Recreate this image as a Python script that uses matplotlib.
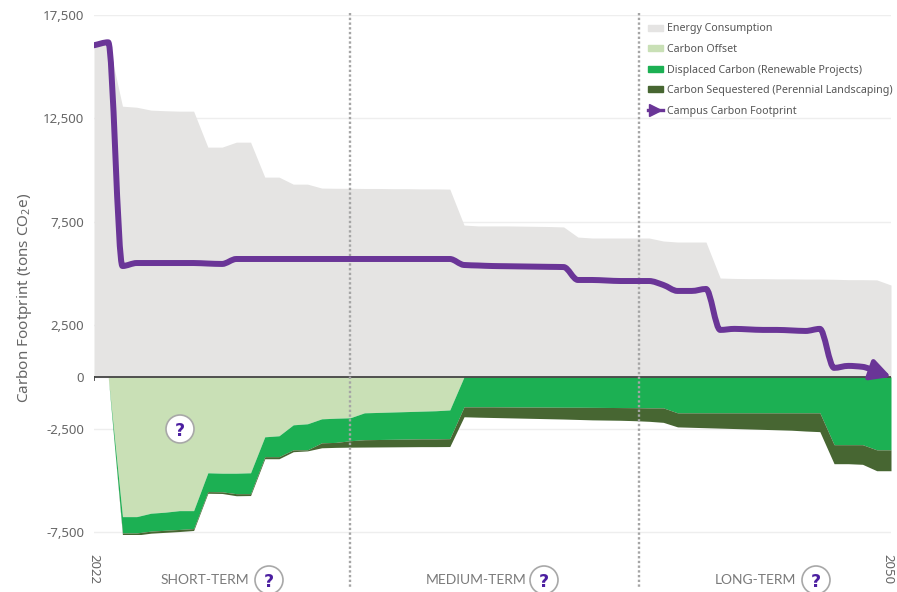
import numpy as np
import matplotlib
matplotlib.use('Agg')
import matplotlib.pyplot as plt
from matplotlib.patches import Patch, PathPatch, Circle
from matplotlib.path import Path
from matplotlib.lines import Line2D

years = np.arange(2022, 2050.5, 0.5)

energy = [16040, 16230, 13090, 13040, 12900, 12870, 12850, 12850, 11110, 11110, 11350, 11350,
          9660, 9660, 9320, 9320, 9130, 9120, 9120, 9110, 9110, 9100, 9100, 9090, 9090, 9080,
          7340, 7300, 7300, 7300, 7290, 7280, 7270, 7250, 6760, 6715, 6715, 6715, 6715, 6715,
          6570, 6520, 6520, 6520, 4780, 4760, 4750, 4750, 4740, 4740, 4730, 4730, 4720, 4700,
          4700, 4690, 4440]
footprint = [16036, 16180, 5360, 5505, 5505, 5505, 5505, 5505, 5480, 5460, 5700, 5700,
             5700, 5700, 5700, 5700, 5700, 5700, 5700, 5700, 5700, 5700, 5700, 5700, 5700, 5700,
             5410, 5385, 5360, 5350, 5340, 5330, 5320, 5310, 4685, 4685, 4660, 4635, 4635, 4635,
             4445, 4155, 4155, 4250, 2270, 2320, 2295, 2270, 2270, 2245, 2220, 2320, 435, 530,
             485, 240, 0]
offset_edge = [0, 0, -6760, -6760, -6595, -6545, -6470, -6470, -4640, -4660, -4660, -4640,
               -2900, -2850, -2320, -2270, -2030, -2000, -1980, -1740, -1720, -1700, -1680,
               -1660, -1640, -1600] + [0] * 31
displaced_edge = [0, 0, -7550, -7550, -7460, -7420, -7380, -7340, -5550, -5560, -5650, -5650,
                  -3860, -3860, -3530, -3530, -3190, -3170, -3090, -3040, -3030, -3020, -3010,
                  -3000, -3000, -2990, -1450, -1450, -1450, -1455, -1460, -1460, -1465, -1470,
                  -1470, -1475, -1480, -1485, -1490, -1500, -1500, -1740, -1740, -1740, -1740,
                  -1740, -1740, -1740, -1740, -1740, -1740, -1740, -3280, -3280, -3280, -3530, -3530]
sequestered_edge = [0, 0, -7650, -7650, -7560, -7520, -7480, -7430, -5630, -5640, -5750, -5740,
                    -3960, -3960, -3620, -3580, -3430, -3410, -3400, -3395, -3390, -3385, -3380,
                    -3375, -3375, -3370, -1930, -1950, -1965, -1980, -1995, -2010, -2025, -2040,
                    -2060, -2080, -2090, -2100, -2120, -2150, -2200, -2420, -2440, -2460, -2480,
                    -2500, -2520, -2540, -2560, -2580, -2620, -2650, -4200, -4200, -4230, -4540, -4540]

y_ticks = [-7500, -2500, 0, 2500, 7500, 12500, 17500]
y_tick_labels = ['-7,500', '-2,500', '0', '2,500', '7,500', '12,500', '17,500']
phase_names = ['SHORT-TERM', 'MEDIUM-TERM', 'LONG-TERM']
phase_breaks = [2031, 2041.15]


def smooth_path(x, y):
    # curve through the points, flat where the slope changes sign
    x = np.asarray(x, float)
    y = np.asarray(y, float)
    d = np.diff(y) / np.diff(x)
    m = np.zeros(len(x))
    for i in range(1, len(x) - 1):
        if d[i - 1] * d[i] > 0:
            m[i] = 2 * d[i - 1] * d[i] / (d[i - 1] + d[i])
    m[0] = d[0]
    m[-1] = d[-1]
    verts = [(x[0], y[0])]
    codes = [Path.MOVETO]
    for i in range(len(x) - 1):
        h = (x[i + 1] - x[i]) / 3
        verts += [(x[i] + h, y[i] + m[i] * h), (x[i + 1] - h, y[i + 1] - m[i + 1] * h), (x[i + 1], y[i + 1])]
        codes += [Path.CURVE4] * 3
    return Path(verts, codes)


plt.rcParams['font.family'] = ['Noto Sans', 'DejaVu Sans']
plt.rcParams['mathtext.default'] = 'regular'

W, H = 897, 592
fig = plt.figure(figsize=(W / 100, H / 100), dpi=100)
ax = fig.add_axes([94 / W, 1 - 534 / H, (891 - 94) / W, (534 - 15) / H])
ax.set_xlim(2022, 2050)
ax.set_ylim(-7600, 17500)
for s in ax.spines.values():
    s.set_visible(False)

GREY = '#e5e4e3'
LIGHT = '#c9e0b6'
GREEN = '#1cb053'
DARK = '#476632'
PURPLE = '#6a3597'
TXT = '#666666'

ax.set_yticks(y_ticks)
ax.set_yticklabels(y_tick_labels, fontsize=9.5, color=TXT)
ax.tick_params(axis='y', length=0, pad=7)
ax.set_xticks([])
ax.grid(axis='y', color='#eeeeee', linewidth=1)
ax.set_axisbelow(True)

ax.fill_between(years, 0, energy, color=GREY, linewidth=0, zorder=2)
ax.fill_between(years, 0, offset_edge, color=LIGHT, linewidth=0, zorder=2)
ax.fill_between(years, offset_edge, displaced_edge, color=GREEN, linewidth=0, zorder=2)
ax.fill_between(years, displaced_edge, sequestered_edge, color=DARK, linewidth=0, zorder=2)
ax.axhline(0, color='#444444', linewidth=1.3, zorder=3)
ax.plot([2022, 2022], [0, -170], color='#444444', linewidth=1.3, zorder=3)

for b in phase_breaks:
    ax.plot([b, b], [17600, -10250], color='#a5a5a5', linewidth=1.7, linestyle=(0, (1, 1)),
            clip_on=False, zorder=4)

ax.add_patch(PathPatch(smooth_path(years[:-1], footprint[:-1]), fc='none', ec=PURPLE, linewidth=4.3,
                       joinstyle='round', capstyle='round', zorder=5))
ax.annotate('', xy=(years[-1], footprint[-1]), xytext=(years[-2], footprint[-2]),
            arrowprops=dict(arrowstyle='-|>,head_length=0.8,head_width=0.42', color=PURPLE,
                            linewidth=3.4, shrinkA=0, shrinkB=0, mutation_scale=15),
            zorder=6, annotation_clip=False)

handles = [Patch(color=GREY), Patch(color=LIGHT), Patch(color=GREEN), Patch(color=DARK),
           Line2D([0], [0], color=PURPLE, linewidth=2.4, marker='>', markersize=8, markevery=[1])]
labels = ['Energy Consumption', 'Carbon Offset', 'Displaced Carbon (Renewable Projects)',
          'Carbon Sequestered (Perennial Landscaping)', 'Campus Carbon Footprint']
leg = ax.legend(handles, labels, loc='upper left', bbox_to_anchor=((644 - 94) / 797, 0.991),
                frameon=False, fontsize=7.65, labelcolor='#555555', handlelength=1.45, handleheight=0.5,
                handletextpad=0.4, labelspacing=0.9, borderpad=0.35, borderaxespad=0)
leg.set_zorder(7)

fig.text(24 / W, 1 - 298 / H, 'Carbon Footprint (tons CO$_2$e)', rotation=90, ha='center', va='center',
         fontsize=11, color=TXT)
fig.text(93.5 / W, 1 - 554 / H, '2022', rotation=270, ha='center', va='top', fontsize=9.5, color=TXT)
fig.text(888 / W, 1 - 554 / H, '2050', rotation=270, ha='center', va='top', fontsize=9.5, color=TXT)

phase_x = [205, 476, 755]
mark_x = [269, 544, 816]
marks = [(180, 429)] + [(mx, 580) for mx in mark_x]
for name, tx in zip(phase_names, phase_x):
    fig.text(tx / W, 1 - 580 / H, name, ha='center', va='center', fontsize=10, color='#7a7a7a',
             family=['Lato', 'DejaVu Sans'])
for mx, my in marks:
    fig.add_artist(Circle((mx / 100, (H - my) / 100), 0.14, transform=fig.dpi_scale_trans, fc='white',
                          ec='#a8a8a8', lw=1.2, zorder=8))
    fig.text(mx / W, 1 - my / H, '?', ha='center', va='center_baseline', fontsize=12.5, color='#4b1ea0',
             fontweight='bold', family=['DejaVu Sans'], zorder=9)

fig.savefig('out.png', dpi=100)
